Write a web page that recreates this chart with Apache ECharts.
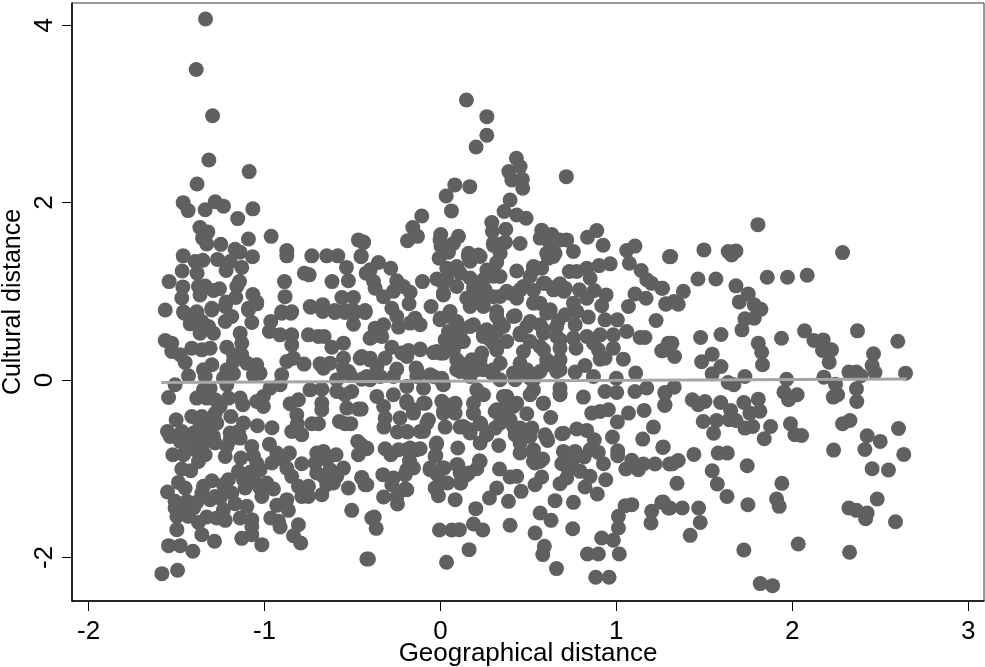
<!DOCTYPE html>
<html><head><meta charset="utf-8">
<style>html,body{margin:0;padding:0;background:#fff}#c{width:985px;height:667px}</style>
<script src="https://cdn.jsdelivr.net/npm/echarts@6/dist/echarts.min.js"></script>
</head><body><div id="c"></div>
<script>
const xTicks=[-2,-1,0,1,2,3];
const yTicks=[-2,0,2,4];
const fitLine=[[-1.587,-0.027],[2.65,0.011]];
const upperLeft=[[-1.335,4.07],[-1.388,3.5],[-1.295,2.98],[-1.316,2.48],[-1.087,2.35],[-1.383,2.21],[-1.462,2],[-1.434,1.91],[-1.337,1.92],[-1.28,2.01],[-1.233,1.96],[-1.066,1.93],[-1.152,1.82],[-1.367,1.72],[-1.322,1.67],[-1.352,1.6],[-1.328,1.535],[-1.248,1.53],[-1.091,1.59],[-0.962,1.62],[-1.167,1.475],[-1.138,1.44],[-1.068,1.39],[-1.462,1.4],[-0.873,1.46],[-0.873,1.4],[-0.731,1.4],[-0.646,1.4],[-0.583,1.4],[-0.466,1.58],[-0.437,1.555],[-0.451,1.39],[-0.534,1.27],[-0.422,1.205],[-1.394,1.336],[-1.35,1.35],[-1.267,1.36],[-1.195,1.336],[-1.129,1.27],[-1.218,1.235],[-1.468,1.23],[-1.383,1.205],[-0.773,1.205],[-0.746,1.186],[-1.542,1.11],[-1.142,1.11],[-0.886,1.11],[-0.616,1.11],[-0.523,1.12],[-1.464,1.05],[-1.375,1.055],[-1.337,1.06],[-1.256,1.03],[-1.29,1.01],[-1.157,1.055],[-1.366,0.96],[-1.066,0.965],[-0.883,0.94],[-0.56,0.93],[-0.494,0.93],[-1.47,0.925],[-1.163,0.93],[-1.044,0.88],[-1.218,0.88],[-1.564,0.79],[-1.46,0.77],[-1.385,0.77],[-1.299,0.81],[-1.091,0.81],[-0.902,0.77],[-0.845,0.77],[-0.74,0.83],[-0.669,0.85],[-0.6,0.785],[-0.54,0.785],[-0.494,0.785],[-0.428,0.785]];
const lowerLeft=[[-1.456,0.754],[-1.385,0.754],[-1.299,0.791],[-1.223,0.829],[-1.091,0.791],[-1.044,0.859],[-0.902,0.754],[-0.85,0.754],[-0.737,0.821],[-0.669,0.773],[-0.6,0.761],[-0.542,0.761],[-0.485,0.761],[-0.428,0.761],[-1.422,0.634],[-1.356,0.66],[-1.318,0.604],[-1.223,0.66],[-1.186,0.716],[-1.072,0.649],[-0.964,0.66],[-0.494,0.63],[-1.366,0.529],[-1.29,0.529],[-1.138,0.529],[-0.972,0.547],[-0.911,0.51],[-0.845,0.51],[-0.75,0.51],[-0.693,0.491],[-0.661,0.491],[-1.564,0.446],[-1.527,0.416],[-1.214,0.371],[-1.129,0.416],[-0.551,0.416],[-0.617,0.371],[-0.4,0.472],[-0.845,0.397],[-1.309,0.36],[-1.356,0.341],[-1.413,0.36],[-1.527,0.322],[-1.479,0.285],[-1.176,0.285],[-1.129,0.285],[-0.551,0.247],[-0.456,0.247],[-0.4,0.228],[-1.451,0.198],[-1.176,0.21],[-1.1,0.191],[-1.044,0.172],[-0.873,0.21],[-0.835,0.247],[-0.775,0.18],[-0.684,0.183],[-0.627,0.191],[-0.665,0.134],[-1.347,0.116],[-1.299,0.172],[-1.214,0.116],[-1.176,0.071],[-1.063,0.059],[-1.025,0.078],[-0.902,0.059],[-1.432,0.048],[-0.523,0.097],[-0.551,0.134],[-0.513,0.059],[-1.337,0.04],[-1.233,0.022],[-1.508,-0.053],[-0.911,-0.053],[-0.968,-0.091],[-0.589,0.003],[-0.447,0.01],[-0.4,0.003],[-1.214,-0.053],[-1.347,-0.11],[-1.309,-0.091],[-0.741,-0.11],[-0.674,-0.102],[-0.589,-0.128],[-0.504,-0.128],[-0.542,-0.166],[-1.545,-0.196],[-1.385,-0.203],[-1.328,-0.203],[-1.28,-0.222],[-1.205,-0.203],[-1.138,-0.203],[-1.006,-0.185],[-1.044,-0.241],[-1.006,-0.297],[-1.123,-0.278],[-0.854,-0.267],[-0.807,-0.222],[-0.674,-0.26],[-0.674,-0.335],[-0.532,-0.316],[-0.466,-0.327],[-1.252,-0.297],[-1.28,-0.372],[-1.191,-0.41],[-1.413,-0.41],[-1.356,-0.41],[-0.816,-0.391],[-1.502,-0.447],[-1.309,-0.466],[-1.119,-0.485],[-1.04,-0.515],[-0.957,-0.537],[-0.731,-0.492],[-0.693,-0.492],[-0.574,-0.466],[-0.542,-0.492],[-0.509,-0.492],[-0.813,-0.492],[-1.366,-0.504],[-1.271,-0.485],[-1.551,-0.579],[-1.47,-0.579],[-1.403,-0.597],[-1.328,-0.56],[-1.195,-0.597],[-1.148,-0.579],[-0.845,-0.579],[-0.788,-0.616],[-1.536,-0.635],[-1.384,-0.654],[-1.29,-0.635],[-1.138,-0.654],[-1.479,-0.691],[-1.422,-0.71],[-1.347,-0.71],[-1.28,-0.71],[-1.195,-0.673],[-0.972,-0.722],[-0.47,-0.691],[-0.419,-0.766],[-1.072,-0.748],[-1.214,-0.748],[-1.394,-0.785],[-0.466,-0.842],[-1.521,-0.842],[-1.46,-0.842],[-1.223,-0.86],[-1.337,-0.842],[-1.134,-0.879],[-0.93,-0.823],[-0.858,-0.823],[-0.703,-0.823],[-0.665,-0.804],[-0.593,-0.842],[-1.063,-0.853],[-1.375,-0.917],[-1.044,-0.935],[-0.958,-0.935],[-0.892,-0.898],[-0.788,-0.943],[-0.712,-0.935],[-0.646,-0.898],[-1.47,-1.003],[-1.419,-1.022],[-0.873,-0.992],[-0.627,-1.01],[-0.551,-0.992],[-1.148,-1.029],[-1.081,-1.04],[-1.025,-1.01],[-0.845,-1.085],[-0.703,-1.048],[-0.665,-1.085],[-0.447,-1.097],[-0.589,-1.085],[-1.299,-1.134],[-1.205,-1.123],[-1.489,-1.153],[-1.451,-1.217],[-1.347,-1.198],[-1.233,-1.179],[-1.119,-1.123],[-1.053,-1.153],[-0.987,-1.16],[-0.428,-1.179],[-0.807,-1.198],[-0.75,-1.198],[-0.523,-1.217],[-0.608,-1.16],[-0.646,-1.179],[-1.11,-1.217],[-1.025,-1.217],[-1.551,-1.262],[-0.949,-1.228],[-1.356,-1.273],[-1.186,-1.273],[-1.015,-1.311],[-0.788,-1.311],[-0.75,-1.311],[-0.674,-1.292],[-1.28,-1.311],[-1.508,-1.367],[-1.441,-1.367],[-1.385,-1.378],[-1.309,-1.348],[-1.252,-1.33],[-1.167,-1.393],[-1.1,-1.423],[-0.873,-1.348],[-0.93,-1.412],[-1.508,-1.442],[-1.233,-1.461],[-0.864,-1.468],[-1.451,-1.461],[-0.504,-1.468],[-1.403,-1.442],[-1.498,-1.536],[-1.432,-1.536],[-1.328,-1.543],[-1.271,-1.555],[-1.223,-1.581],[-1.375,-1.604],[-1.138,-1.555],[-1.072,-1.573],[-0.964,-1.555],[-0.92,-1.592],[-0.39,-1.555],[-0.911,-1.656],[-0.807,-1.63],[-1.498,-1.686],[-1.072,-1.649],[-1.356,-1.742],[-1.072,-1.742],[-0.835,-1.754],[-1.129,-1.784],[-1.284,-1.817],[-0.794,-1.836],[-1.015,-1.855],[-1.545,-1.866],[-1.479,-1.866],[-1.407,-1.93],[-0.418,-2.016],[-1.494,-2.144],[-1.583,-2.182]];
const upperMiddle=[[0.148,3.157],[0.264,2.969],[0.264,2.76],[0.203,2.627],[0.432,2.5],[0.453,2.406],[0.389,2.35],[0.466,2.263],[0.406,2.256],[0.468,2.162],[0.716,2.293],[0.082,2.2],[0.167,2.18],[0.033,2.076],[0.063,1.907],[0.396,2.03],[0.362,1.9],[0.434,1.86],[0.487,1.824],[-0.106,1.85],[-0.157,1.72],[-0.13,1.62],[-0.187,1.57],[0.292,1.775],[0.296,1.674],[0.372,1.7],[0.002,1.64],[0.103,1.62],[0.074,1.54],[0.576,1.69],[0.633,1.64],[0.567,1.6],[0.624,1.54],[0.718,1.58],[0.889,1.685],[0.836,1.61],[0.925,1.52],[0.302,1.516],[0.37,1.554],[0.453,1.54],[0.004,1.505],[0.046,1.44],[-0.007,1.374],[0.16,1.43],[0.216,1.41],[0.34,1.43],[0.652,1.43],[0.614,1.374],[0.756,1.45],[1.059,1.46],[1.106,1.51],[1.074,1.317],[1.302,1.39],[0.965,1.31],[0.902,1.29],[0.169,1.34],[0.32,1.325],[0.434,1.23],[0.529,1.28],[0.576,1.26],[0.036,1.26],[0.093,1.28],[0.264,1.24],[0.733,1.224],[0.775,1.224],[0.832,1.26],[1.141,1.235],[-0.352,1.325],[-0.282,1.26],[-0.399,1.243],[-0.437,1.55],[-0.45,1.4],[-0.102,1.11],[-0.248,1.12],[-0.38,1.11],[-0.02,1.14],[0.036,1.13],[0.169,1.15],[0.302,1.17],[0.51,1.17],[0.851,1.15],[1.173,1.13],[1.2,1.09],[1.258,1.035],[0.595,1.09],[0.68,1.085],[-0.21,1.055],[-0.371,1.036],[-0.172,0.99],[-0.267,1],[0.017,0.96],[0.093,1.055],[0.188,1.036],[0.254,1.017],[0.377,1],[0.453,1.017],[0.529,1.01],[0.643,1.017],[0.703,1],[0.79,1.017],[0.875,1.01],[0.942,0.96],[1.106,0.97],[1.169,0.923],[1.069,0.83],[1.281,0.86],[-0.323,0.94],[-0.178,0.86],[-0.053,0.83],[-0.428,0.766],[0.15,0.923],[0.226,0.905],[0.302,0.94],[0.434,0.923],[0.529,0.867],[0.756,0.867],[0.832,0.923],[0.917,0.837],[0.624,0.792],[-0.276,0.81],[0.055,0.773],[0.169,0.83],[0.32,0.773],[0.425,0.724],[0.709,0.736],[0.775,0.773],[-0.248,0.717],[0,0.698],[-0.144,0.698],[0.841,0.71],[0.936,0.679],[1.006,0.679],[1.226,0.672],[0.671,0.672],[0.51,0.66],[0.093,0.66],[0.188,0.623],[0.567,0.623],[-0.115,0.623],[-0.172,0.642],[0.339,0.642],[-0.371,0.585],[-0.323,0.623],[-0.238,0.597],[0.766,0.623],[1.059,0.548],[1.135,0.48],[1.163,0.48],[0.046,0.548],[0.112,0.529],[0.245,0.529],[0.32,0.548],[0.453,0.51],[0.586,0.529],[0.661,0.492],[0.832,0.492],[0.908,0.51],[0.983,0.51],[-0.39,0.484],[-0.333,0.492],[0.756,0.473],[0.027,0.454],[0.131,0.435],[0.283,0.454],[0.377,0.435],[0.51,0.435],[0.87,0.416],[1.296,0.416],[-0.276,0.371],[-0.181,0.334],[-0.115,0.35],[-0.039,0.31],[0,0.304],[0.074,0.341],[0.32,0.341],[0.472,0.322],[0.586,0.341],[0.68,0.36],[0.771,0.36],[0.983,0.36],[0.898,0.341],[1.258,0.33],[-0.219,0.304],[-0.399,0.247],[-0.447,0.266],[-0.314,0.247],[0.908,0.236],[1.04,0.236],[0.936,0.247],[0.179,0.229],[0.235,0.304],[0.093,0.229],[0.453,0.19],[0.605,0.173],[0.68,0.229],[0.34,0.19],[-0.248,0.124],[-0.138,0.135],[-0.361,0.154],[0.822,0.165],[0.766,0.09],[1.11,0.08],[0.112,0.097],[0.207,0.116],[0.292,0.08],[0.453,0.097],[0.567,0.097],[0.661,0.097],[-0.058,0.06],[0.008,0.02],[-0.134,0.04],[-0.267,0.04],[-0.418,0.04],[-0.342,0.04],[0.87,0.04],[1,0.02],[0.169,0.04],[0.51,0.02]];
const denseUpperCentre=[[0.055,1.243],[0.017,1.092],[0.112,1.205],[0.017,0.98],[0.159,1.393],[0.226,1.393],[0.301,1.243],[0.244,1.13],[0.339,1.167],[0.169,0.905],[0.244,0.83],[0.339,0.942],[0.396,0.98],[0.055,0.717],[-0.002,0.68],[0.169,0.604],[0.093,0.604],[0.055,0.454],[0.121,0.435],[0.32,0.717],[0.263,0.567],[0.358,0.604],[0.415,0.717],[0.301,0.417],[0.244,0.492],[0.472,1.055],[0.529,1.243],[0.566,0.867],[0.491,0.604],[0.453,0.529],[0.604,0.755],[0.585,0.567],[0.661,0.604],[0.566,0.379],[0.604,0.229],[0.68,0.454],[0.226,0.229],[0.169,0.116],[0.244,0.116],[0.112,0.191],[0.415,0.079],[0.491,0.116],[0.529,0.004],[0.68,0.116],[0.301,0.116],[0.339,0.004],[0.093,0.116],[0.017,0.304],[-0.134,0.116],[-0.04,0.041],[-0.191,0.267],[-0.115,0.342],[-0.021,0.323],[-0.002,1.58],[0.017,1.505],[0.301,1.543],[0.358,1.543],[0.604,1.43],[0.642,1.393],[0.68,1.58],[0.585,1.618],[0.585,1.092],[0.661,1.055],[0.709,1.036]];
const lowerMiddle=[[0.008,-0.015],[0.425,0.003],[0.68,-0.09],[0.68,-0.166],[-0.361,-0.184],[-0.267,-0.166],[-0.191,-0.24],[-0.087,-0.26],[0.008,-0.24],[0.084,-0.26],[0.188,-0.26],[0.245,-0.166],[0.358,-0.184],[0.51,-0.166],[0.586,-0.26],[0.813,-0.192],[0.936,-0.128],[1.002,-0.14],[1.106,-0.128],[1.173,-0.09],[1.277,-0.147],[1.277,-0.278],[-0.45,-0.327],[-0.323,-0.297],[-0.153,-0.334],[0.017,-0.353],[0.084,-0.372],[0.188,-0.372],[0.311,-0.353],[0.377,-0.297],[0.434,-0.26],[0.491,-0.38],[0.86,-0.372],[0.908,-0.353],[0.955,-0.334],[1.069,-0.372],[1.158,-0.342],[0.627,-0.421],[-0.314,-0.428],[-0.229,-0.428],[-0.068,-0.447],[0.34,-0.391],[0.396,-0.447],[1.006,-0.473],[0.23,-0.496],[-0.321,-0.53],[0.027,-0.53],[0.112,-0.53],[0.169,-0.56],[0.311,-0.541],[0.453,-0.541],[0.52,-0.541],[0.775,-0.552],[0.832,-0.567],[1.211,-0.53],[-0.244,-0.586],[-0.187,-0.586],[-0.096,-0.578],[0.264,-0.616],[0.425,-0.616],[0.595,-0.616],[0.69,-0.605],[0.978,-0.642],[0.875,-0.672],[1.15,-0.665],[0.226,-0.71],[0.332,-0.736],[0.453,-0.71],[0.61,-0.68],[-0.024,-0.729],[0.099,-0.766],[1.264,-0.759],[-0.418,-0.774],[-0.45,-0.729],[-0.314,-0.774],[-0.238,-0.785],[-0.172,-0.766],[-0.115,-0.774],[-0.282,-0.841],[0.453,-0.822],[0.529,-0.785],[0.699,-0.804],[0.766,-0.804],[0.851,-0.785],[0.898,-0.815],[1.008,-0.796],[-0.026,-0.852],[0.817,-0.867],[1.008,-0.852],[0.222,-0.909],[-0.176,-0.905],[0.538,-0.935],[0.582,-0.89],[0.69,-0.943],[0.747,-0.935],[0.927,-0.943],[1.088,-0.905],[1.154,-0.946],[1.22,-0.946],[1.302,-0.946],[0.099,-0.954],[-0.153,-0.991],[-0.058,-0.991],[0.021,-0.991],[0.207,-0.999],[0.336,-1.003],[1.054,-1.003],[1.125,-1.01],[0.728,-1.01],[0.794,-1.029],[-0.327,-1.066],[-0.2,-1.066],[-0.017,-1.066],[0.112,-1.048],[0.16,-1.048],[0.396,-1.093],[0.434,-1.085],[0.576,-1.093],[0.718,-1.104],[0.851,-1.085],[0.94,-1.123],[-0.447,-1.104],[-0.267,-1.104],[-0.418,-1.179],[0.538,-1.179],[0.68,-1.168],[0.822,-1.205],[-0.276,-1.179],[0.04,-1.16],[0.116,-1.16],[-0.2,-1.228],[-0.03,-1.217],[0.32,-1.217],[0.459,-1.254],[-0.011,-1.303],[-0.323,-1.318],[-0.248,-1.318],[0.279,-1.329],[0.892,-1.284],[0.084,-1.348],[0.387,-1.367],[0.652,-1.359],[0.756,-1.378],[-0.244,-1.397],[1.05,-1.416],[1.088,-1.404],[1.258,-1.378],[1.296,-1.442],[0.201,-1.449],[1.201,-1.479],[0.567,-1.498],[1.012,-1.536],[-0.376,-1.543],[0.629,-1.581],[1.197,-1.611],[0.188,-1.622],[0.396,-1.637],[-0.365,-1.671],[-0.005,-1.69],[0.065,-1.69],[0.108,-1.686],[0.241,-1.69],[0.752,-1.675],[1.012,-1.667],[0.538,-1.723],[0.917,-1.78],[0.983,-1.806],[0.591,-1.873],[0.163,-1.911],[0.582,-1.967],[0.836,-1.96],[0.898,-1.96],[1.017,-1.96],[-0.409,-2.016],[0.035,-2.054],[0.66,-2.125],[0.883,-2.223],[0.959,-2.223]];
const denseLowerCentre=[[0.377,-0.185],[0.32,-0.335],[0.358,-0.372],[0.415,-0.297],[0.339,-0.485],[0.415,-0.523],[0.472,-0.56],[0.453,-0.673],[0.51,-0.635],[0.529,-0.823],[-0.191,-0.26],[-0.096,-0.26],[-0.153,-0.372],[0.017,-0.26],[0.074,-0.279],[0.017,-0.372],[-0.077,-0.485],[-0.115,-0.579],[-0.191,-0.579],[-0.191,-0.785],[-0.134,-0.785],[-0.021,-0.71],[-0.03,-0.86],[-0.172,-0.935],[-0.191,-1.01],[-0.059,-1.01],[0.017,-0.992],[0.093,-0.954],[0.15,-1.067],[0.226,-0.917],[-0.002,-1.16],[0.112,-1.16],[-0.021,-1.236],[-0.191,-1.236],[0.529,-0.11],[0.585,-0.26],[0.68,-0.147],[0.188,-0.372],[0.226,-0.485],[0.131,-0.523],[0.263,-0.617],[0.169,-0.597],[-0.191,-0.072],[-0.096,-0.091],[0.017,-0.053],[0.207,-0.11],[0.604,-0.654],[0.699,-0.598],[0.566,-0.917],[0.529,-0.917]];
const rightSide=[[1.805,1.752],[1.498,1.467],[1.309,1.392],[1.636,1.448],[1.68,1.456],[1.655,1.41],[2.286,1.437],[1.464,1.14],[1.566,1.14],[1.858,1.159],[1.973,1.159],[2.085,1.182],[1.263,1.035],[1.381,1],[1.68,1.062],[1.75,0.971],[1.699,0.881],[1.282,0.855],[1.328,0.885],[1.352,0.855],[1.784,0.848],[1.822,0.799],[1.731,0.69],[1.784,0.697],[1.714,0.566],[2.07,0.555],[2.371,0.555],[1.479,0.48],[1.595,0.513],[1.939,0.472],[2.6,0.438],[2.123,0.446],[2.176,0.453],[1.807,0.416],[1.316,0.416],[1.263,0.33],[2.223,0.341],[2.172,0.333],[1.826,0.314],[1.545,0.292],[1.331,0.266],[2.462,0.296],[1.485,0.206],[1.595,0.153],[1.831,0.172],[2.21,0.202],[2.454,0.164],[1.545,0.07],[1.731,0.04],[1.968,0.01],[2.18,0.033],[2.322,0.09],[2.365,0.09],[2.39,0.048],[2.47,0.086],[2.644,0.078],[1.636,-0.027],[1.668,-0.053],[2.246,-0.046],[2.365,-0.098],[1.329,-0.08],[1.276,-0.14],[1.953,-0.136],[2.028,-0.166],[1.979,-0.222],[2.258,-0.166],[2.233,-0.192],[1.807,-0.215],[1.432,-0.222],[1.504,-0.241],[1.466,-0.278],[1.593,-0.252],[1.725,-0.252],[2.367,-0.241],[1.275,-0.286],[1.65,-0.342],[1.816,-0.35],[1.759,-0.372],[1.68,-0.455],[1.642,-0.447],[1.494,-0.466],[1.57,-0.455],[1.99,-0.493],[1.775,-0.523],[1.731,-0.541],[1.877,-0.523],[2.328,-0.455],[2.286,-0.493],[1.553,-0.598],[2.015,-0.616],[2.053,-0.624],[2.604,-0.545],[2.426,-0.628],[1.841,-0.661],[2.5,-0.691],[1.267,-0.755],[2.235,-0.789],[2.413,-0.782],[1.579,-0.823],[1.631,-0.823],[1.441,-0.838],[2.634,-0.838],[1.352,-0.906],[1.32,-0.943],[1.744,-0.966],[2.454,-1],[2.547,-1.014],[1.545,-1.022],[1.574,-1.172],[1.345,-1.164],[1.941,-1.164],[1.629,-1.311],[2.483,-1.341],[1.911,-1.341],[1.926,-1.423],[1.267,-1.375],[1.305,-1.442],[1.375,-1.442],[1.468,-1.442],[1.748,-1.405],[2.322,-1.442],[2.365,-1.468],[2.426,-1.498],[2.417,-1.562],[2.587,-1.596],[1.477,-1.604],[1.42,-1.75],[1.725,-1.915],[2.034,-1.848],[2.326,-1.941],[1.818,-2.294],[1.888,-2.317]];
const points=[...upperLeft,...lowerLeft,...upperMiddle,...denseUpperCentre,...lowerMiddle,...denseLowerCentre,...rightSide];
const font='"Liberation Sans",Arial,sans-serif';
const chart=echarts.init(document.getElementById('c'),null,{renderer:'canvas'});
chart.setOption({
 animation:false,
 backgroundColor:'#fff',
 grid:{left:72,right:1,top:3,bottom:66,show:true,borderColor:'#333',borderWidth:1,backgroundColor:'#fff',outerBoundsMode:'none'},
 xAxis:{type:'value',min:-2.094,max:3.09,name:'Geographical distance',nameLocation:'middle',nameGap:53,nameMoveOverlap:false,
  nameTextStyle:{fontFamily:font,fontSize:26,color:'#000',verticalAlign:'middle'},
  splitLine:{show:false},axisLine:{onZero:false,lineStyle:{color:'#000',width:1.5}},
  axisTick:{length:10,customValues:xTicks,lineStyle:{color:'#000',width:1}},
  axisLabel:{customValues:xTicks,fontFamily:font,fontSize:26,color:'#000',margin:18}},
 yAxis:{type:'value',min:-2.49,max:4.25,name:'Cultural distance',nameLocation:'middle',nameGap:59,nameMoveOverlap:false,
  nameTextStyle:{fontFamily:font,fontSize:25,color:'#000',verticalAlign:'middle'},
  splitLine:{show:false},axisLine:{onZero:false,lineStyle:{color:'#000',width:1.5}},
  axisTick:{length:10,customValues:yTicks,lineStyle:{color:'#000',width:1}},
  axisLabel:{customValues:yTicks,rotate:90,fontFamily:font,fontSize:26,color:'#000',margin:14}},
 series:[
  {type:'scatter',data:points,symbol:'circle',symbolSize:15,itemStyle:{color:'#606060',opacity:1},silent:true,z:2},
  {type:'line',data:fitLine,showSymbol:false,lineStyle:{color:'#a6a6a6',width:3},silent:true,z:3}
 ]
});
</script></body></html>
